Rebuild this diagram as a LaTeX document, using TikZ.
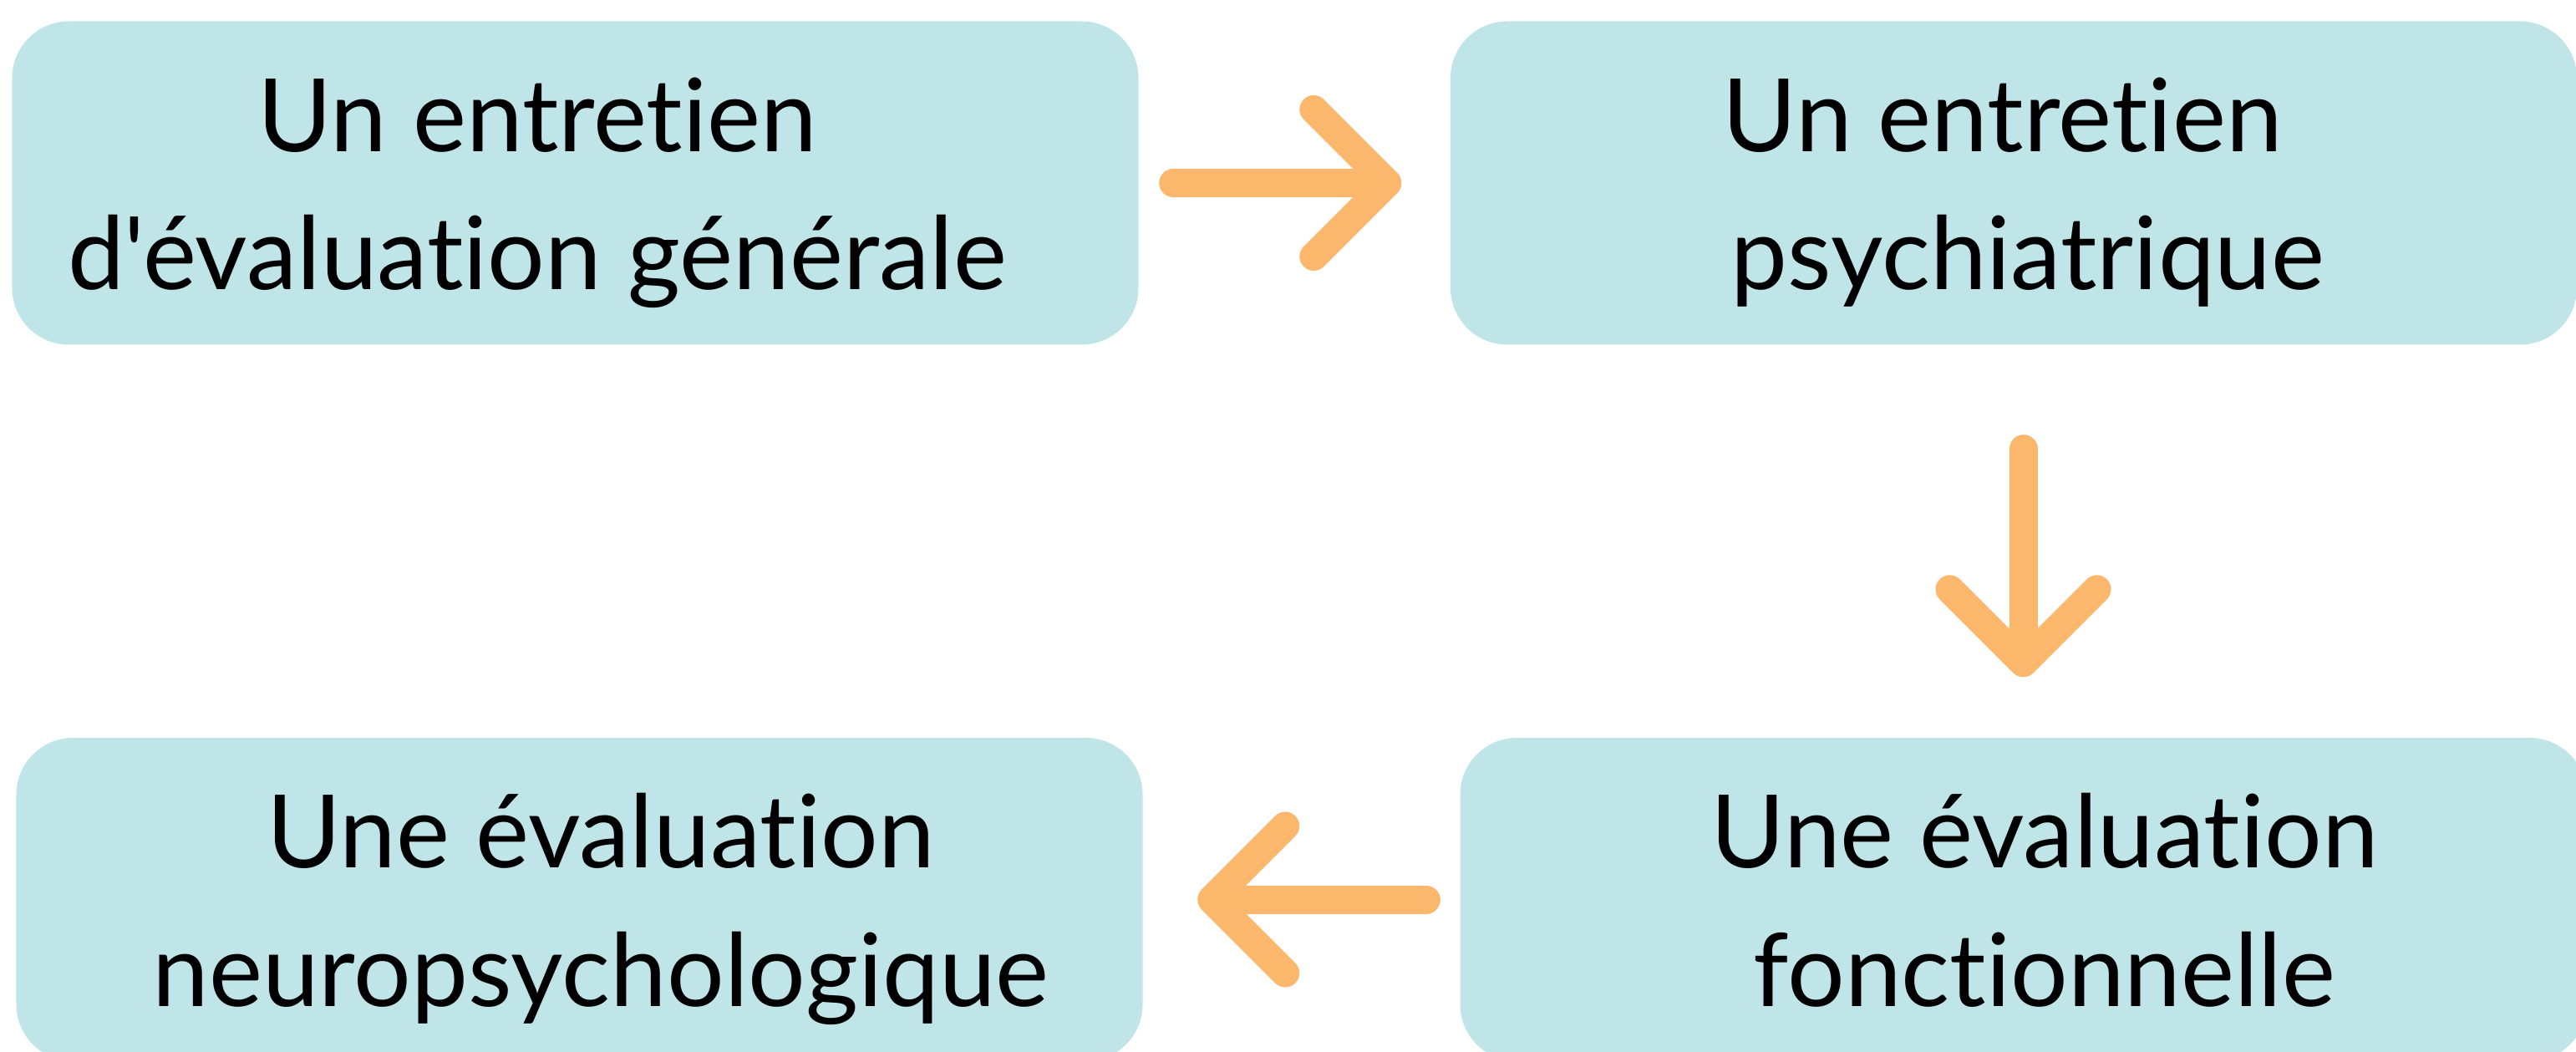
\documentclass[tikz,border=0pt]{standalone}
\usepackage{fontspec}
\newfontfamily\stepfont{Lato}[Ligatures={NoCommon}]
\usetikzlibrary{arrows.meta}
\definecolor{boxblue}{HTML}{BFE5E8}
\definecolor{arroworange}{HTML}{FBB76B}

\begin{document}
\begin{tikzpicture}[
    stepbox/.style={fill=boxblue, rounded corners=0.68cm, minimum width=13.48cm, minimum height=3.87cm, inner sep=0pt},
    steptext/.style={align=center, inner sep=0pt, text height=2.54cm, text depth=0pt, font=\stepfont\fontsize{34.5}{46.95}\selectfont},
    flow/.style={draw=arroworange, line width=0.34cm, line cap=round, -{Straight Barb[length=0.88cm, width=1.76cm, round]}}
]
\useasboundingbox (0,0) rectangle (30.83,-12.59);
%%   kw   (name)   (x, y)   {text}
    \node[stepbox] (b1) at (6.885,-2.19) {};
    \node[stepbox] (b2) at (24.10,-2.19) {};
    \node[stepbox] (b3) at (6.935,-10.765) {};
    \node[stepbox] (b4) at (24.215,-10.765) {};
    \node[steptext] (t1) at (6.43,-2.20) {Un entretien\\d'évaluation générale};
    \node[steptext] (t2) at (24.27,-2.20) {Un entretien\hspace*{0.61cm}\\psychiatrique};
    \node[steptext] (t3) at (7.19,-10.77) {Une évaluation\\neuropsychologique};
    \node[steptext] (t4) at (24.47,-10.77) {Une évaluation\\fonctionnelle};
    \draw[flow, shorten <=0.41cm, shorten >=0.58cm] (b1.east) -- (b2.west);
    \draw[flow, shorten <=1.24cm, shorten >=0.72cm] (b4.north |- b2.south) -- (b4.north);
    \draw[flow, shorten <=0.40cm, shorten >=0.65cm] (b4.west) -- (b3.east);
\end{tikzpicture}
\end{document}
